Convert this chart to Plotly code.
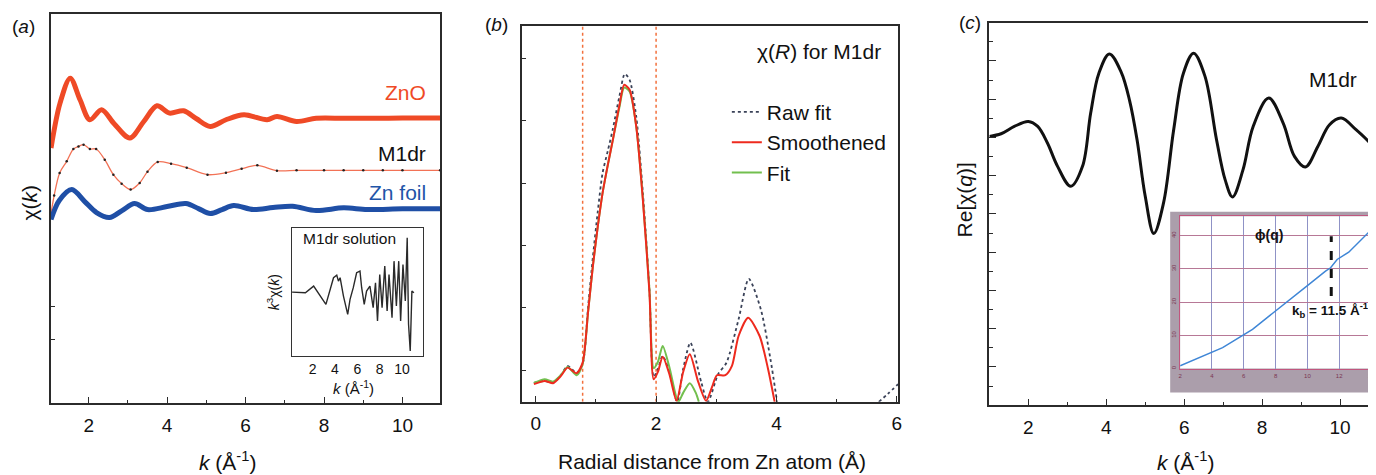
import plotly.graph_objects as go

# page body has an 8px margin: the figure is sized to fit the 1376x475 viewport inside it
OFF = 8
W, H = 1376 - OFF, 475 - OFF
FONT = "Liberation Sans, Arial, sans-serif"

# ---------------- Panel (a): chi(k) ----------------
k_zno = [1.04, 1.27, 1.53, 1.78, 2.03, 2.33, 2.65, 3.05, 3.4, 3.74, 4.06, 4.42, 4.75, 5.1, 5.5, 5.96, 6.55, 6.8, 7.3, 7.8, 8.5, 9.2, 10.0, 10.96]
y_zno = [255.7, 300.7, 325.7, 304, 284, 294, 280, 265.7, 282, 298, 290.7, 293, 285, 277.3, 284, 289, 284, 287.3, 282.3, 285.5, 285.5, 285.5, 285.7, 285.7]

k_m1 = [1.04, 1.12, 1.26, 1.44, 1.61, 1.74, 1.87, 2.03, 2.19, 2.41, 2.63, 2.84, 3.07, 3.3, 3.5, 3.76, 4.1, 4.5, 5.03, 5.5, 5.9, 6.3, 6.8, 7.3, 8.0, 8.5, 9.0, 9.5, 10.0, 10.96]
y_m1 = [190, 208, 230.7, 242.3, 254.7, 257.3, 259, 254.7, 254.7, 244, 229, 220, 214, 220.7, 232, 241.7, 240, 236, 229, 231, 235, 238.3, 233, 233.3, 233.3, 233.3, 233.3, 233.3, 233.3, 233.3]

k_zn = [1.04, 1.25, 1.57, 1.9, 2.2, 2.53, 2.85, 3.17, 3.5, 4.0, 4.48, 4.8, 5.1, 5.4, 5.7, 6.2, 6.7, 7.2, 7.8, 8.5, 9.1, 10.0, 10.96]
y_zn = [184, 203, 214, 202, 191, 186, 193, 200, 194, 197, 200, 195, 190, 194, 198, 194, 196, 197.3, 193, 195.7, 194, 194.7, 194.7]

# inset: k^3 chi(k) for M1dr solution
k_in = [0.16, 1.35, 2.09, 3.19, 3.87, 4.16, 4.31, 4.46, 4.76, 5.14, 5.35, 5.64, 5.94, 6.24, 6.39, 6.62, 6.83, 7.13, 7.42, 7.63, 7.81, 8.01, 8.22, 8.46, 8.67, 8.84, 9.11, 9.29, 9.5, 9.71, 9.88, 10.09, 10.3, 10.47, 10.59, 10.74, 10.89, 11.07]
y_in = [64.3, 63.7, 70.3, 52, 78.7, 81.3, 75.3, 78.7, 60.3, 42, 57, 68.7, 83.7, 85.3, 68.7, 52, 65.3, 70.3, 48.7, 73.7, 35.3, 82, 48.7, 90.3, 45.3, 82, 38.7, 95.3, 50.3, 95.3, 35.3, 92, 55.3, 118.7, 32, 5.3, 65.3, 63.7]
k_in_ticks = [2, 4, 6, 8, 10]

# ---------------- Panel (b): chi(R) ----------------
R_raw = [-0.03, 0.15, 0.29, 0.42, 0.53, 0.68, 0.78, 0.87, 0.95, 1.03, 1.11, 1.2, 1.28, 1.39, 1.48, 1.56, 1.67, 1.78, 1.89, 1.96, 2.03, 2.11, 2.22, 2.35, 2.45, 2.57, 2.75, 2.86, 3.03, 3.17, 3.37, 3.54, 3.74, 3.9, 4.01, None, 5.7, 5.85, 6.02]
y_raw = [19, 21, 19, 27, 36, 29, 38, 95, 145, 190, 229, 252, 273, 306, 328.7, 322.7, 286, 210, 112, 25, 33, 46, 30, 0, 33, 59.3, 19.7, 0, 27.7, 39.3, 82.7, 123.3, 92.7, 42.7, 0, None, 0, 8, 17.7]

R_sm = [-0.03, 0.15, 0.29, 0.42, 0.53, 0.68, 0.78, 0.87, 0.95, 1.03, 1.11, 1.2, 1.28, 1.39, 1.47, 1.56, 1.67, 1.78, 1.89, 1.96, 2.03, 2.11, 2.22, 2.34, 2.45, 2.56, 2.7, 2.83, 2.93, 3.01, 3.15, 3.26, 3.37, 3.53, 3.72, 3.86, 3.97]
y_sm = [17.7, 21, 18.7, 26, 34.3, 28.7, 39.3, 90, 136, 175, 209, 238, 262, 297, 317.7, 312.7, 276, 202.7, 109.3, 22.7, 30, 45.3, 28, 1, 30, 47.7, 20, 1, 15, 26.7, 26.7, 36, 66, 84.3, 66, 33, 0]

R_fit = [-0.03, 0.15, 0.29, 0.42, 0.53, 0.68, 0.78, 0.87, 0.95, 1.03, 1.11, 1.2, 1.28, 1.39, 1.47, 1.56, 1.67, 1.78, 1.89, 1.96, 2.03, 2.11, 2.22, 2.37, 2.45, 2.56, 2.66, 2.71]
y_fit = [19, 22.7, 20.3, 27, 35, 26.7, 38, 90, 136, 175, 209, 238, 262, 295, 315, 311, 276, 204, 112, 34, 40, 56, 35, 0, 9, 18.7, 9, 0]

R_window = [0.78, 2.0]

# ---------------- Panel (c): Re[chi(q)] ----------------
k_c = [1.0, 1.3, 1.64, 2.0, 2.24, 2.49, 2.75, 3.09, 3.39, 3.6, 3.81, 4.08, 4.38, 4.6, 4.79, 5.0, 5.22, 5.47, 5.73, 5.98, 6.24, 6.53, 6.83, 7.05, 7.24, 7.51, 7.77, 8.17, 8.54, 8.83, 9.11, 9.43, 9.73, 10.03, 10.41, 10.82]
y_c = [269.3, 272, 279.3, 284.3, 279.3, 262.7, 239.3, 219.3, 239.3, 292.7, 332.7, 352, 334, 305, 266, 209.3, 172, 202.7, 276, 332.7, 352.7, 330, 266, 226, 208.7, 236, 279.3, 307.7, 282.7, 249.3, 238.7, 259.3, 281, 287.7, 276, 261]

# inset: phi(q)
k_phi = [2.0, 4.67, 6.55, 8.43, 10.1, 11.14, 11.46, 11.87, 12.6, 13.86, 14.0]
phi = [0.8, 6.3, 11.8, 18.8, 25.3, 29.3, 30.3, 32.8, 35, 41, 41.8]
k_b = 11.5
phi_kb = [21.8, 39.8]


def px(x):
    return (x - OFF) / W


def py(y):
    return 1 - (y - OFF) / H


fig = go.Figure()

# (a)
fig.add_trace(go.Scatter(x=k_zno, y=y_zno, mode="lines", line=dict(color="#ef4a26", width=5, shape="spline", smoothing=0.9),
                         xaxis="x", yaxis="y", showlegend=False))
fig.add_trace(go.Scatter(x=k_m1, y=y_m1, mode="lines+markers", line=dict(color="#f27256", width=1.3, shape="spline", smoothing=0.9),
                         marker=dict(color="#222", size=2.5), xaxis="x", yaxis="y", showlegend=False))
fig.add_trace(go.Scatter(x=k_zn, y=y_zn, mode="lines", line=dict(color="#1f4fa6", width=5, shape="spline", smoothing=0.9),
                         xaxis="x", yaxis="y", showlegend=False))
fig.add_trace(go.Scatter(x=k_in, y=y_in, mode="lines", line=dict(color="#2a2a2a", width=1.4),
                         xaxis="x2", yaxis="y2", showlegend=False))

# (b)
for rw in R_window:
    fig.add_trace(go.Scatter(x=[rw, rw], y=[0, 376.7], mode="lines", line=dict(color="#f2703c", width=1.5, dash="dot"),
                             xaxis="x3", yaxis="y3", showlegend=False))
fig.add_trace(go.Scatter(x=R_raw, y=y_raw, mode="lines", name="Raw fit", legendgroup="a", legendrank=1,
                         line=dict(color="#3a4258", width=1.8, dash="dot", shape="spline", smoothing=0.7),
                         xaxis="x3", yaxis="y3"))
fig.add_trace(go.Scatter(x=R_fit, y=y_fit, mode="lines", name="Fit", legendgroup="c", legendrank=3,
                         line=dict(color="#72bf4e", width=2, shape="spline", smoothing=0.7),
                         xaxis="x3", yaxis="y3"))
fig.add_trace(go.Scatter(x=R_sm, y=y_sm, mode="lines", name="Smoothened", legendgroup="b", legendrank=2,
                         line=dict(color="#ee2a1e", width=2, shape="spline", smoothing=0.7),
                         xaxis="x3", yaxis="y3"))

# (c)
fig.add_trace(go.Scatter(x=k_c, y=y_c, mode="lines", line=dict(color="#111", width=3, shape="spline", smoothing=1.0),
                         xaxis="x4", yaxis="y4", showlegend=False))
fig.add_trace(go.Scatter(x=k_phi, y=phi, mode="lines", line=dict(color="#3f86d6", width=1.5),
                         xaxis="x5", yaxis="y5", showlegend=False))
fig.add_trace(go.Scatter(x=[k_b, k_b], y=phi_kb, mode="lines", line=dict(color="#111", width=3, dash="dash"),
                         xaxis="x5", yaxis="y5", showlegend=False))

axis_common = dict(showgrid=False, zeroline=False, showline=True, linecolor="#2b2b2b", linewidth=1.6,
                   ticks="inside", tickcolor="#2b2b2b", tickfont=dict(size=19, color="#111", family=FONT))
minor_x = dict(dtick=1, ticklen=3, ticks="inside", tickcolor="#2b2b2b")

layout = dict(
    width=W, height=H, margin=dict(l=0, r=0, t=0, b=0),
    paper_bgcolor="white", plot_bgcolor="white",
    font=dict(family=FONT, color="#111"),
    xaxis=dict(domain=[px(49), px(440)], range=[1.035, 10.96], anchor="y", mirror=True, dtick=2, tick0=0,
               ticklen=6, minor=minor_x, ticklabelstandoff=4, **axis_common),
    yaxis=dict(domain=[py(404), py(14)], range=[0, 390], anchor="x", mirror=True, tickvals=[64, 97], ticklen=4,
               showticklabels=False, **axis_common),
    xaxis2=dict(domain=[px(291), px(423)], range=[0.13, 11.9], anchor="y2", mirror=True, tickvals=k_in_ticks,
                showgrid=False, zeroline=False, showline=True, linecolor="#333", linewidth=1.4, ticks="",
                tickfont=dict(size=14, color="#111", family=FONT)),
    yaxis2=dict(domain=[py(357), py(228)], range=[0, 129], anchor="x2", mirror=True, showticklabels=False,
                showgrid=False, zeroline=False, showline=True, linecolor="#333", linewidth=1.4, ticks=""),
    xaxis3=dict(domain=[px(522.7), px(900)], range=[-0.22, 6.02], anchor="y3", mirror=True, dtick=2, tick0=0,
                ticklen=6, minor=minor_x, ticklabelstandoff=4, **axis_common),
    yaxis3=dict(domain=[py(402.7), py(26)], range=[0, 376.7], anchor="x3", mirror=True, tick0=31.7, dtick=62.5,
                ticklen=4, showticklabels=False, **axis_common),
    xaxis4=dict(domain=[px(991.7), 1.0], range=[1.0, 10.82], anchor="y4", mirror=True, dtick=2, tick0=0,
                ticklen=6, minor=minor_x, ticklabelstandoff=4, **axis_common),
    yaxis4=dict(domain=[py(406), py(23.3)], range=[0, 382.7], anchor="x4", mirror=False, tick0=0, dtick=38.33,
                ticklen=7, minor=dict(dtick=19.165, ticklen=4, ticks="inside", tickcolor="#2b2b2b"),
                showticklabels=False, **axis_common),
    xaxis5=dict(domain=[px(1183.3), px(1375)], range=[2, 14], anchor="y5", mirror=True, dtick=2, tick0=0,
                showgrid=True, gridcolor="#8f92c6", gridwidth=1, zeroline=False, showline=True,
                linecolor="#c0567e", linewidth=1, ticks="", tickfont=dict(size=6, color="#7a3552", family=FONT),
                ticklabelstandoff=1),
    yaxis5=dict(domain=[py(369.3), py(216.7)], range=[0, 45.8], anchor="x5", mirror=True, dtick=10, tick0=0,
                showgrid=True, gridcolor="#b77896", gridwidth=1, zeroline=False, showline=True,
                linecolor="#c0567e", linewidth=1, ticks="", tickfont=dict(size=6, color="#7a3552", family=FONT),
                ticklabelstandoff=1, tickangle=-90),
    legend=dict(x=px(728), y=py(92), xanchor="left", yanchor="top", bgcolor="rgba(255,255,255,0)",
                font=dict(size=21, color="#111", family=FONT), tracegroupgap=11, traceorder="normal"),
    shapes=[
        dict(type="rect", xref="paper", yref="paper", x0=px(1173.3), x1=1.0, y0=py(393.3), y1=py(212.3),
             fillcolor="#ab9eab", line=dict(width=0), layer="below"),
        dict(type="rect", xref="paper", yref="paper", x0=px(1183.3), x1=px(1375), y0=py(369.3), y1=py(216.7),
             fillcolor="#a395a4", line=dict(width=0), layer="below"),
    ],
)


def ann(text, x, y, size=21, color="#111", angle=0, xanchor="center"):
    return dict(text=text, x=px(x), y=py(y), xref="paper", yref="paper", showarrow=False,
                xanchor=xanchor, yanchor="middle", textangle=angle,
                font=dict(size=size, color=color, family=FONT))


annotations = [
    ann("(<i>a</i>)", 22, 27, size=19),
    ann("(<i>b</i>)", 497, 25, size=19),
    ann("(<i>c</i>)", 972, 23, size=19),
    # panel a
    ann("ZnO", 428, 93, color="#ef4a26", xanchor="right"),
    ann("M1dr", 428, 154, xanchor="right"),
    ann("Zn foil", 428, 193, color="#1f55a8", xanchor="right"),
    ann("χ(<i>k</i>)", 28, 203, angle=-90),
    ann("<i>k</i> (Å<sup>-1</sup>)", 226, 462),
    ann("M1dr solution", 349, 239, size=15.5),
    ann("<i>k</i><sup>3</sup>χ(<i>k</i>)", 273, 293, size=14, angle=-90),
    ann("<i>k</i> (Å<sup>-1</sup>)", 353, 388, size=15),
    # panel b
    ann("χ(<i>R</i>) for M1dr", 885, 52, xanchor="right"),
    ann("Radial distance from Zn atom (Å)", 713, 462),
    # panel c
    ann("M1dr", 1337, 80),
    ann("Re[χ(<i>q</i>)]", 967, 200, angle=-90),
    ann("<i>k</i> (Å<sup>-1</sup>)", 1189, 462),
    ann("<b>ϕ(q)</b>", 1273, 235, size=14),
    ann("<b>k<sub>b</sub> = 11.5 Å<sup>-1</sup></b>", 1334, 311, size=13.5),
]
layout["annotations"] = annotations

fig.update_layout(**layout)
fig.write_html("out.html")
